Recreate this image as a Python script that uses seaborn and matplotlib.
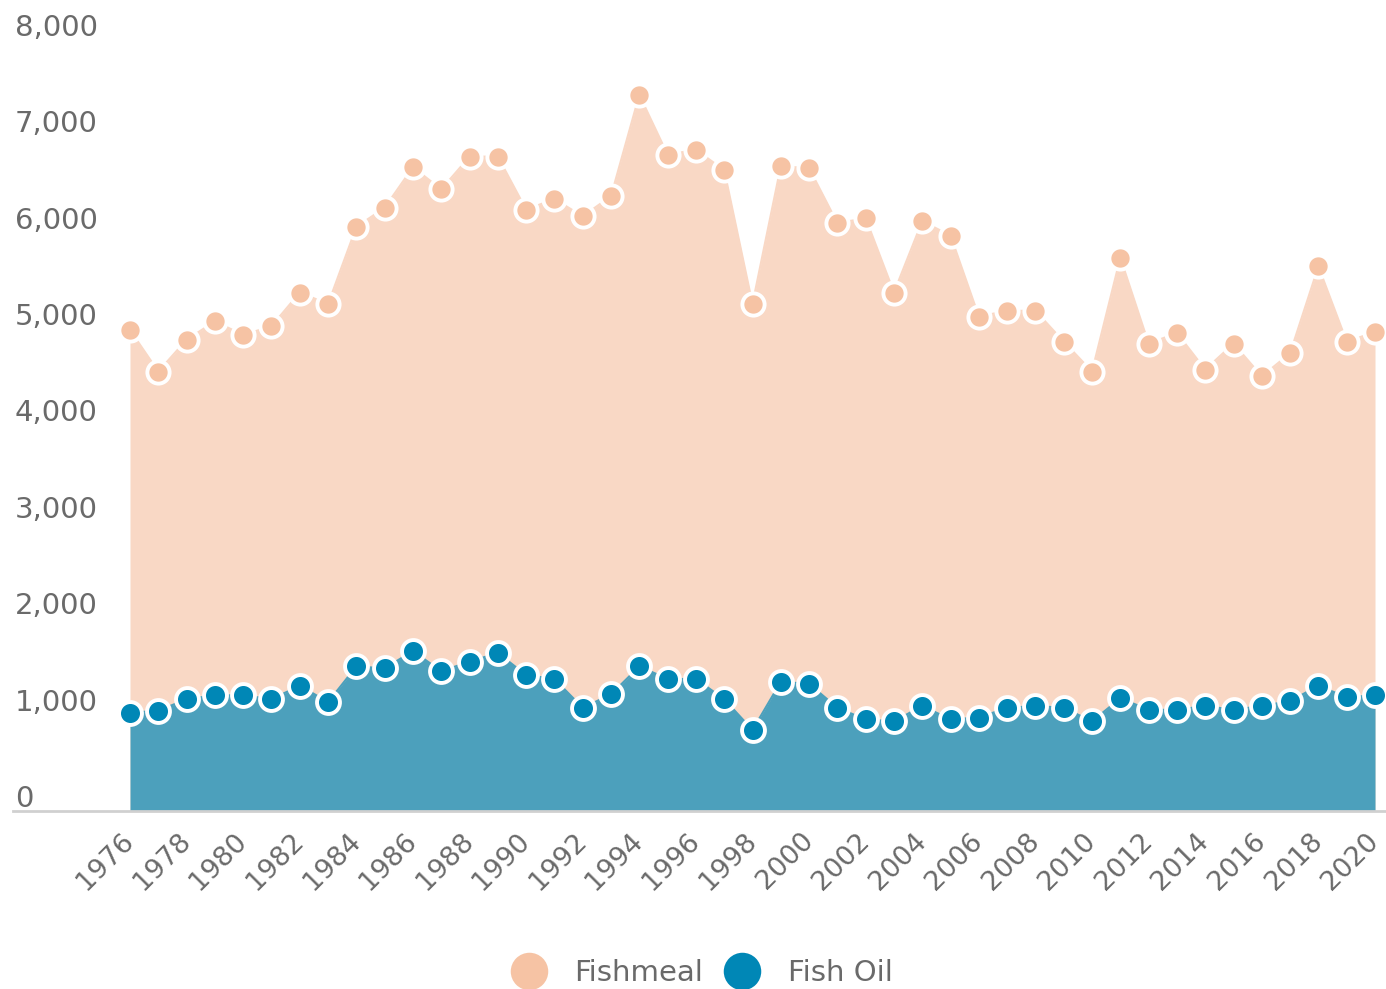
import matplotlib
matplotlib.use("Agg")
import matplotlib.pyplot as plt
import matplotlib.transforms as mtransforms
from matplotlib.lines import Line2D
import seaborn as sns
import pandas as pd

years = list(range(1976, 2021))
fishmeal = [4990, 4560, 4890, 5080, 4940, 5030, 5380, 5260, 6060, 6260,
            6680, 6450, 6790, 6790, 6240, 6350, 6170, 6380, 7430, 6810,
            6860, 6650, 5260, 6690, 6670, 6100, 6150, 5380, 6120, 5970,
            5130, 5190, 5190, 4870, 4560, 5740, 4850, 4960, 4580, 4850,
            4510, 4750, 5650, 4870, 4970]
fish_oil = [1020, 1040, 1160, 1200, 1200, 1160, 1300, 1130, 1500, 1480,
            1660, 1450, 1550, 1640, 1410, 1370, 1070, 1210, 1500, 1370,
            1370, 1160, 840, 1340, 1320, 1070, 950, 930, 1090, 950,
            970, 1070, 1090, 1070, 930, 1170, 1050, 1050, 1090, 1050,
            1090, 1140, 1300, 1180, 1200]
series_names = ["Fishmeal", "Fish Oil"]
y_ticks = [0, 1000, 2000, 3000, 4000, 5000, 6000, 7000, 8000]
x_ticks = list(range(1976, 2021, 2))

df = pd.DataFrame({"year": years, "Fishmeal": fishmeal, "Fish Oil": fish_oil})

sns.set_theme(style="white")
plt.rcParams["font.family"] = ["DejaVu Sans"]

W, H, DPI = 1386, 989, 100
fig = plt.figure(figsize=(W / DPI, H / DPI), dpi=DPI)
ax_left, ax_right, ax_top, ax_bottom = 13, 1386, 40, 811
ax = fig.add_axes([ax_left / W, 1 - ax_bottom / H, (ax_right - ax_left) / W, (ax_bottom - ax_top) / H])

fm_fill, fm_mark = "#F9D8C5", "#F6C3A4"
fo_fill, fo_mark = "#4CA0BC", "#0087B6"

# Fishmeal
ax.fill_between(df["year"], df["Fishmeal"], 0, color=fm_fill, linewidth=0, zorder=1)
sns.lineplot(data=df, x="year", y="Fishmeal", ax=ax, color=fm_fill, linewidth=1.5,
             marker="o", markersize=16, markerfacecolor=fm_mark, markeredgecolor="white",
             markeredgewidth=2.8, zorder=2)
# Fish oil
ax.fill_between(df["year"], df["Fish Oil"], 0, color=fo_fill, linewidth=0, zorder=3)
sns.lineplot(data=df, x="year", y="Fish Oil", ax=ax, color=fo_fill, linewidth=1.5,
             marker="o", markersize=16.5, markerfacecolor=fo_mark, markeredgecolor="white",
             markeredgewidth=2.8, zorder=4)

step = (1375 - 130) / 44.0
ax.set_xlim(1976 - (130 - ax_left) / step, 2020 + (ax_right - 1375) / step)
ax.set_ylim(0, 8000)

ax.set_xlabel("")
ax.set_ylabel("")
ax.set_yticks(y_ticks)
ax.set_yticklabels([f"{v:,}" for v in y_ticks])
ax.set_xticks(x_ticks)
ax.set_xticklabels([str(v) for v in x_ticks])

for s in ["top", "right", "left"]:
    ax.spines[s].set_visible(False)
ax.spines["bottom"].set_color("#d0d0d0")
ax.spines["bottom"].set_linewidth(2)
ax.spines["bottom"].set_zorder(5)

ax.tick_params(axis="y", length=0, pad=0, labelsize=21, labelcolor="#6a6a6a")
ax.tick_params(axis="x", length=0, pad=0, labelsize=19.5, labelcolor="#6a6a6a")

yoff = mtransforms.ScaledTranslation(2 / DPI, 15 / DPI, fig.dpi_scale_trans)
for lab in ax.get_yticklabels():
    lab.set_horizontalalignment("left")
    lab.set_transform(lab.get_transform() + yoff)

xoff = mtransforms.ScaledTranslation(0 / DPI, -26 / DPI, fig.dpi_scale_trans)
for lab in ax.get_xticklabels():
    lab.set_rotation(45)
    lab.set_rotation_mode("anchor")
    lab.set_horizontalalignment("right")
    lab.set_verticalalignment("center")
    lab.set_transform(lab.get_transform() + xoff)

handles = [
    Line2D([], [], linestyle="none", marker="o", markersize=27, markerfacecolor=fm_mark, markeredgecolor="none"),
    Line2D([], [], linestyle="none", marker="o", markersize=27, markerfacecolor=fo_mark, markeredgecolor="none"),
]
fig.legend(handles, series_names, loc="center", bbox_to_anchor=(702 / W, 1 - 973 / H),
           ncol=2, frameon=False, fontsize=21, labelcolor="#6a6a6a",
           handletextpad=0.95, columnspacing=0.75, handlelength=1.2)

fig.savefig("out.png", dpi=DPI)
